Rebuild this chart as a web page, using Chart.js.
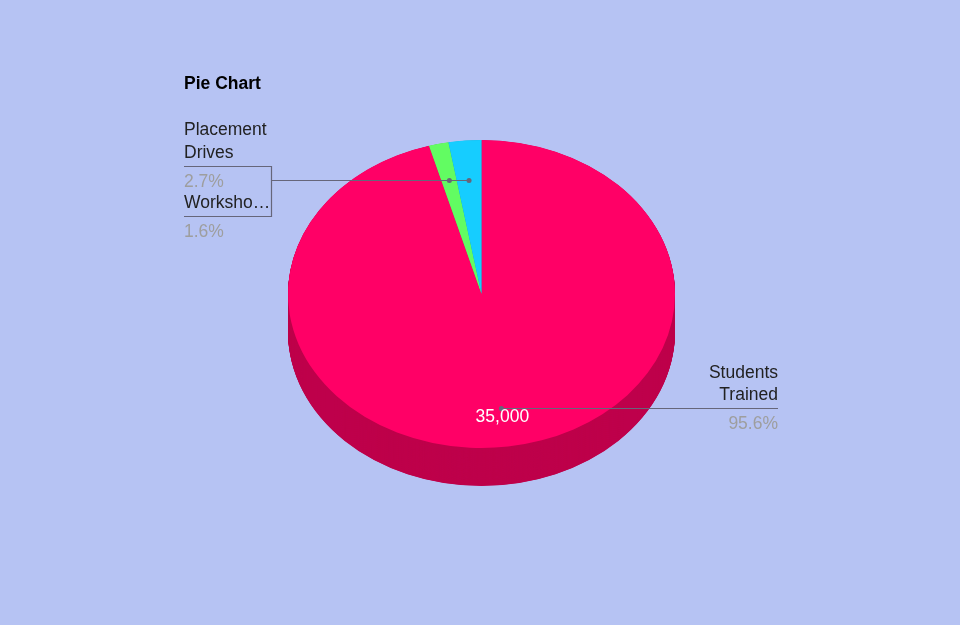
<!DOCTYPE html>
<html>
<head>
<meta charset="utf-8">
<script src="https://cdn.jsdelivr.net/npm/chart.js@4"></script>
<style>
  html, body { margin: 0; padding: 0; background: #b6c3f3; }
  #wrap { width: 960px; height: 625px; position: relative; }
</style>
</head>
<body>
<div id="wrap"><canvas id="c" width="960" height="625"></canvas></div>
<script>
const title = 'Pie Chart';
const categories = ['Students Trained', 'Workshops', 'Placement Drives'];
const values = [35000, 600, 1000];
const labelLines = [['Students', 'Trained'], ['Worksho\u2026'], ['Placement', 'Drives']];
const topColors = ['#ff0066', '#62fc62', '#16cdff'];
const sideColors = ['#be004b', '#49bd49', '#1099bf'];

const FONT = '"Liberation Sans", Arial, sans-serif';
const TILT = 154 / 193.5;   // vertical squash of the ellipse
const CENTER_Y = 294;        // screen y of the top face centre
const DEPTH = 38;            // screen px thickness

function geom(chart) {
  const arc = chart.getDatasetMeta(0).data[0];
  return { cx: arc.x, cy: arc.y, R: arc.outerRadius };
}

const pie3d = {
  id: 'pie3d',
  beforeDatasetsDraw(chart) {
    const ctx = chart.ctx;
    const { cx, cy, R } = geom(chart);
    const arcs = chart.getDatasetMeta(0).data;
    ctx.save();
    ctx.translate(0, CENTER_Y);
    ctx.scale(1, TILT);
    ctx.translate(0, -cy);
    // side wall
    const depthU = DEPTH / TILT;
    for (let d = depthU; d > 0; d -= 0.5) {
      arcs.forEach((a, i) => {
        ctx.beginPath();
        ctx.moveTo(a.x, a.y + d);
        ctx.arc(a.x, a.y + d, a.outerRadius, a.startAngle, a.endAngle);
        ctx.closePath();
        ctx.fillStyle = sideColors[i];
        ctx.fill();
      });
    }
  },
  afterDatasetsDraw(chart) {
    chart.ctx.restore();
  },
  afterDraw(chart) {
    const ctx = chart.ctx;
    const { cx, cy, R } = geom(chart);
    const arcs = chart.getDatasetMeta(0).data;
    const total = values.reduce((s, v) => s + v, 0);
    const anchor = (i) => {
      const a = arcs[i];
      const m = (a.startAngle + a.endAngle) / 2;
      const r = 0.75 * a.outerRadius;
      return { x: a.x + Math.cos(m) * r, y: CENTER_Y + Math.sin(m) * r * TILT };
    };
    const pct = (i) => (values[i] / total * 100).toFixed(1) + '%';

    ctx.save();
    // title
    ctx.font = 'bold 17.5px ' + FONT;
    ctx.fillStyle = '#000';
    ctx.textAlign = 'left';
    ctx.textBaseline = 'alphabetic';
    ctx.fillText(title, 184, 89);

    ctx.font = '17.5px ' + FONT;
    ctx.strokeStyle = '#66667a';
    ctx.lineWidth = 1.2;

    const dot = (p) => {
      ctx.beginPath();
      ctx.arc(p.x, p.y, 2.5, 0, Math.PI * 2);
      ctx.fillStyle = '#66667a';
      ctx.fill();
    };

    // Placement Drives (index 2) and Workshops (index 1) - upper-left
    const pA = anchor(2);
    const pB = anchor(1);
    const joinY = Math.round((pA.y + pB.y) / 2) + 0.5;
    ctx.beginPath();
    ctx.moveTo(184, 166.5); ctx.lineTo(271.5, 166.5); ctx.lineTo(271.5, 216.5); ctx.lineTo(184, 216.5);
    ctx.moveTo(271.5, joinY); ctx.lineTo(pA.x, joinY);
    ctx.stroke();
    dot({ x: pA.x, y: joinY });
    dot({ x: pB.x, y: joinY });

    ctx.fillStyle = '#222';
    ctx.fillText(labelLines[2][0], 184, 135);
    ctx.fillText(labelLines[2][1], 184, 158);
    ctx.fillStyle = '#9e9e9e';
    ctx.fillText(pct(2), 184, 187);
    ctx.fillStyle = '#222';
    ctx.fillText(labelLines[1][0], 184, 208);
    ctx.fillStyle = '#9e9e9e';
    ctx.fillText(pct(1), 184, 237);

    // Students Trained (index 0) - right
    const p0 = anchor(0);
    const ly = Math.round(p0.y) + 0.5;
    ctx.beginPath();
    ctx.moveTo(p0.x, ly); ctx.lineTo(778, ly);
    ctx.stroke();
    dot({ x: p0.x, y: ly });
    ctx.textAlign = 'right';
    ctx.fillStyle = '#222';
    ctx.fillText(labelLines[0][0], 778, 378);
    ctx.fillText(labelLines[0][1], 778, 400);
    ctx.fillStyle = '#9e9e9e';
    ctx.fillText(pct(0), 778, 429);

    // value inside slice
    ctx.textAlign = 'center';
    ctx.fillStyle = '#ffffff';
    ctx.fillText(values[0].toLocaleString('en-US'), p0.x + 1, ly + 13);
    ctx.restore();
  }
};

new Chart(document.getElementById('c'), {
  type: 'pie',
  data: {
    labels: categories,
    datasets: [{
      data: values,
      backgroundColor: topColors,
      borderWidth: 0,
      clip: false
    }]
  },
  options: {
    responsive: false,
    animation: false,
    layout: { padding: { left: 288, right: 285, top: 50, bottom: 150 } },
    plugins: {
      legend: { display: false },
      tooltip: { enabled: false },
      title: { display: false }
    }
  },
  plugins: [pie3d]
});
</script>
</body>
</html>
